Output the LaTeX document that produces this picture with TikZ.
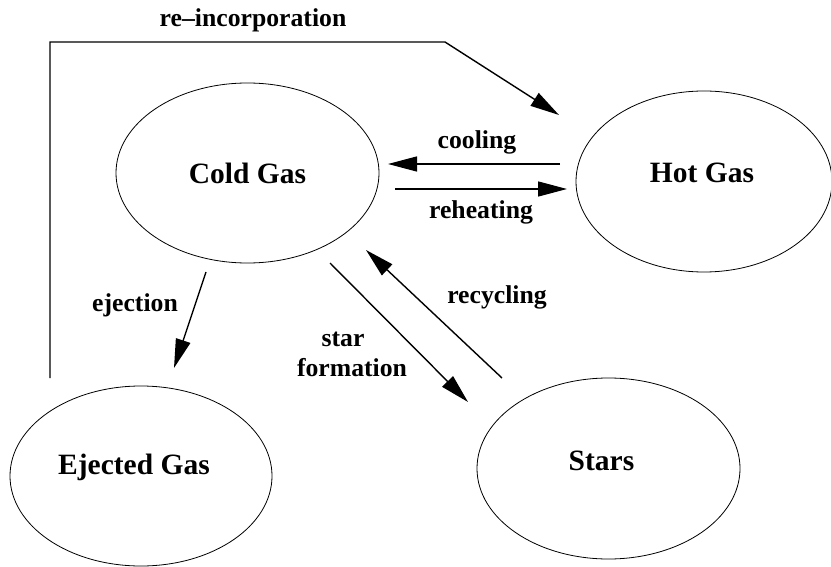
\documentclass[tikz,border=0pt]{standalone}
\usepackage{fontspec}
\setmainfont{Liberation Serif}
\usetikzlibrary{shapes.geometric,arrows.meta}
\begin{document}
\begin{tikzpicture}[x=1bp,y=-1bp,
  gasbox/.style={draw,ellipse,line width=0.8bp,inner sep=0pt},
  bigtext/.style={font=\fontsize{29.6}{34}\selectfont\bfseries},
  lbl/.style={font=\fontsize{25.8}{30}\selectfont\bfseries,align=center},
  flow/.style={line width=1.4bp,-{Triangle[length=29bp,width=15bp]}}]
\useasboundingbox (0,0) rectangle (831,567);
% ellipses
\node[gasbox,minimum width=263bp,minimum height=180bp,bigtext] (cold) at (247.5,173) {Cold Gas};
\node[gasbox,minimum width=256bp,minimum height=181bp,
  label={[bigtext,xshift=-2bp,yshift=9bp]center:Hot Gas}] (hot) at (704,181.5) {};
\node[gasbox,minimum width=262bp,minimum height=180bp,
  label={[bigtext,xshift=-7bp,yshift=9bp]center:Ejected Gas}] (eject) at (141,476) {};
\node[gasbox,minimum width=263bp,minimum height=181bp,
  label={[bigtext,xshift=-7bp,yshift=8bp]center:Stars}] (stars) at (608.5,468.5) {};
% connector end points
\coordinate (ri0) at (50,378);
\coordinate (ri1) at (50,42);
\coordinate (ri2) at (445,42);
\coordinate (ri3) at (559,115);
\coordinate (co0) at (560,164);
\coordinate (co1) at (388,164);
\coordinate (rh0) at (395,189);
\coordinate (rh1) at (567,189);
\coordinate (ej0) at (206,272);
\coordinate (ej1) at (174,368);
\coordinate (sf0) at (330,263);
\coordinate (sf1) at (468,402);
\coordinate (rc0) at (502,378);
\coordinate (rc1) at (366,250);
% connectors
\draw[flow] (ri0) -- (ri1) -- (ri2) -- (ri3);
\draw[flow] (co0) -- (co1);
\draw[flow] (rh0) -- (rh1);
\draw[flow] (ej0) -- (ej1);
\draw[flow] (sf0) -- (sf1);
\draw[flow] (rc0) -- (rc1);
% labels
\node[lbl] (lri) at (253,20) {re–incorporation};
\node[lbl] (lco) at (477,142) {cooling};
\node[lbl] (lrh) at (481,212) {reheating};
\node[lbl] (lej) at (135,305) {ejection};
\node[lbl] (lsf) at (352,354) {star\hspace*{0.7em}\\formation};
\node[lbl] (lrc) at (497,297) {recycling};
\end{tikzpicture}
\end{document}
